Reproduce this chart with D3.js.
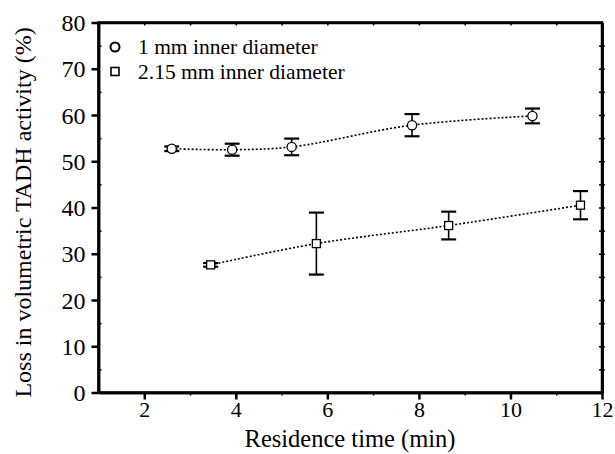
<!DOCTYPE html>
<html><head><meta charset="utf-8">
<script src="https://cdn.jsdelivr.net/npm/d3@7"></script>
<style>body{margin:0;background:#fff}svg{display:block}svg text{font-family:'Liberation Serif','Times New Roman',Times,serif !important;fill:#000}</style>
</head><body>
<svg id="c" width="615" height="454"></svg>
<script>
const xTicks = [2,4,6,8,10,12];
const yTicks = [0,10,20,30,40,50,60,70,80];
const seriesNames = ["1 mm inner diameter","2.15 mm inner diameter"];
const circX = [2.60, 3.92, 5.22, 7.85, 10.48];
const circY = [52.7, 52.5, 53.1, 57.8, 59.8];
const circE = [0.5, 1.3, 1.8, 2.4, 1.6];
const sqX = [3.45, 5.76, 8.65, 11.53];
const sqY = [27.6, 32.2, 36.1, 40.5];
const sqE = [0.4, 6.7, 3.0, 3.05];

const FONT = "'Liberation Serif','Times New Roman',Times,serif";
const svg = d3.select("#c");
const L=98.5, R=602, T=22.5, B=392.5;
const x = d3.scaleLinear().domain([1,12]).range([L,R]);
const y = d3.scaleLinear().domain([0,80]).range([B,T]);

const gx = svg.append("g").attr("transform",`translate(0,${B})`)
  .call(d3.axisBottom(x).tickValues(xTicks).tickSize(7).tickSizeOuter(0).tickPadding(2));
const gxm = svg.append("g").attr("transform",`translate(0,${B})`)
  .call(d3.axisBottom(x).tickValues([3,5,7,9,11]).tickSize(3).tickSizeOuter(0).tickFormat(""));
const gy = svg.append("g").attr("transform",`translate(${L},0)`)
  .call(d3.axisLeft(y).tickValues(yTicks).tickSize(7).tickSizeOuter(0).tickPadding(6));
const gym = svg.append("g").attr("transform",`translate(${L},0)`)
  .call(d3.axisRight(y).tickValues([5,15,25,35,45,55,65,75]).tickSize(3).tickSizeOuter(0).tickFormat(""));
const gt = svg.append("g").attr("transform",`translate(0,${T})`)
  .call(d3.axisBottom(x).tickValues(d3.range(2,12)).tickSize(3).tickSizeOuter(0).tickFormat(""));
const gr = svg.append("g").attr("transform",`translate(${R},0)`)
  .call(d3.axisLeft(y).tickValues(d3.range(5,80,5)).tickSize(3).tickSizeOuter(0).tickFormat(""));
const gr2 = svg.append("g").attr("transform",`translate(${R},0)`)
  .call(d3.axisRight(y).tickValues(d3.range(5,80,5)).tickSize(3).tickSizeOuter(0).tickFormat(""));
[gx,gxm,gy,gym,gt,gr,gr2].forEach(g=>{
  g.attr("font-family",FONT).attr("font-size",24);
  g.select(".domain").attr("stroke","#000").attr("stroke-width",2.5);
  g.selectAll(".tick line").attr("stroke","#000").attr("stroke-width",2.5);
  g.selectAll(".tick text").attr("fill","#000");
});
gx.attr("font-size",22);
gy.selectAll(".tick text").attr("dy","0.34em");
[gxm,gym,gt,gr,gr2].forEach(g=>g.selectAll(".tick line").attr("stroke-width",1.5));

svg.append("rect").attr("x",L).attr("y",T).attr("width",R-L).attr("height",B-T)
  .attr("fill","none").attr("stroke","#000").attr("stroke-width",2.5);

svg.append("text").attr("x",350).attr("y",447).attr("text-anchor","middle")
  .attr("font-family",FONT).attr("font-size",24.5).text("Residence time (min)");
svg.append("text").attr("transform",`translate(31,${(T+B)/2+5}) rotate(-90)`).attr("text-anchor","middle")
  .attr("font-family",FONT).attr("font-size",24).text("Loss in volumetric TADH activity (%)");

const line = d3.line().x(d=>x(d[0])).y(d=>y(d[1])).curve(d3.curveCatmullRom.alpha(0.5));
function drawSeries(xs, ys, es, shape){
  const pts = xs.map((v,i)=>[v,ys[i]]);
  svg.append("path").attr("d",line(pts)).attr("fill","none").attr("stroke","#000")
    .attr("stroke-width",1.6).attr("stroke-dasharray","2,2");
  const g = svg.append("g");
  xs.forEach((v,i)=>{
    const cx=x(v), y1=y(ys[i]+es[i]), y2=y(ys[i]-es[i]);
    g.append("line").attr("x1",cx).attr("x2",cx).attr("y1",y1).attr("y2",y2).attr("stroke","#000").attr("stroke-width",1.6);
    [y1,y2].forEach(yy=>g.append("line").attr("x1",cx-7.5).attr("x2",cx+7.5).attr("y1",yy).attr("y2",yy)
      .attr("stroke","#000").attr("stroke-width",2.2));
    if(shape==="circle") g.append("circle").attr("cx",cx).attr("cy",y(ys[i])).attr("r",4.6)
      .attr("fill","#fff").attr("stroke","#000").attr("stroke-width",1.3);
    else g.append("rect").attr("x",cx-4).attr("y",y(ys[i])-4).attr("width",8).attr("height",8)
      .attr("fill","#fff").attr("stroke","#000").attr("stroke-width",1.3);
  });
}
drawSeries(circX,circY,circE,"circle");
drawSeries(sqX,sqY,sqE,"square");

svg.append("circle").attr("cx",115).attr("cy",47).attr("r",4.5).attr("fill","#fff").attr("stroke","#000").attr("stroke-width",2);
svg.append("rect").attr("x",111).attr("y",67.5).attr("width",8).attr("height",8).attr("fill","#fff").attr("stroke","#000").attr("stroke-width",1.6);
svg.append("text").attr("x",138).attr("y",54).attr("font-family",FONT).attr("font-size",21.5).text(seriesNames[0]);
svg.append("text").attr("x",138).attr("y",79).attr("font-family",FONT).attr("font-size",21.5).text(seriesNames[1]);
</script>
</body></html>
